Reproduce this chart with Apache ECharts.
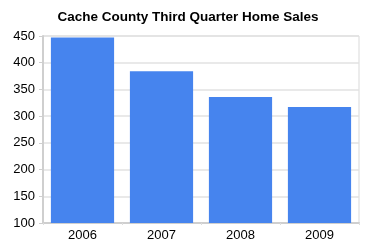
<!DOCTYPE html>
<html><head><meta charset="utf-8">
<script src="https://cdn.jsdelivr.net/npm/echarts@6/dist/echarts.min.js"></script>
<style>html,body{margin:0;padding:0;background:#fff}#c{width:366px;height:248px}</style>
</head><body><div id="c"></div>
<script>
var categories = ['2006', '2007', '2008', '2009'];
var sales = [447, 384, 336, 317];
var yTicks = [100, 150, 200, 250, 300, 350, 400, 450];

var chart = echarts.init(document.getElementById('c'), null, {renderer: 'canvas'});
chart.setOption({
  animation: false,
  title: {
    text: 'Cache County Third Quarter Home Sales',
    left: 183, top: 5, textAlign: 'center',
    textStyle: {fontFamily: 'Liberation Sans, Arial', fontSize: 13.5, fontWeight: 'bold', color: '#000'}
  },
  grid: {left: 43, right: 7, top: 36, bottom: 25, show: true, borderColor: '#d9d9d9', borderWidth: 1},
  xAxis: {
    type: 'category', data: categories,
    axisLine: {lineStyle: {color: '#cfcfcf', width: 2}},
    axisTick: {show: true, length: 2, lineStyle: {color: '#dddddd'}},
    axisLabel: {color: '#000', fontFamily: 'Liberation Sans, Arial', fontSize: 13, margin: 6}
  },
  yAxis: {
    type: 'value', min: yTicks[0], max: yTicks[yTicks.length - 1], interval: 50,
    axisLine: {show: true, lineStyle: {color: '#cfcfcf', width: 2}},
    axisTick: {show: true, length: 4, lineStyle: {color: '#cfcfcf'}},
    splitLine: {lineStyle: {color: '#e2e2e2', width: 1.5}},
    axisLabel: {color: '#000', fontFamily: 'Liberation Sans, Arial', fontSize: 13, margin: 8}
  },
  series: [{
    type: 'bar', data: sales, barCategoryGap: '20%',
    itemStyle: {color: '#4684ee'}
  }]
});
</script></body></html>
